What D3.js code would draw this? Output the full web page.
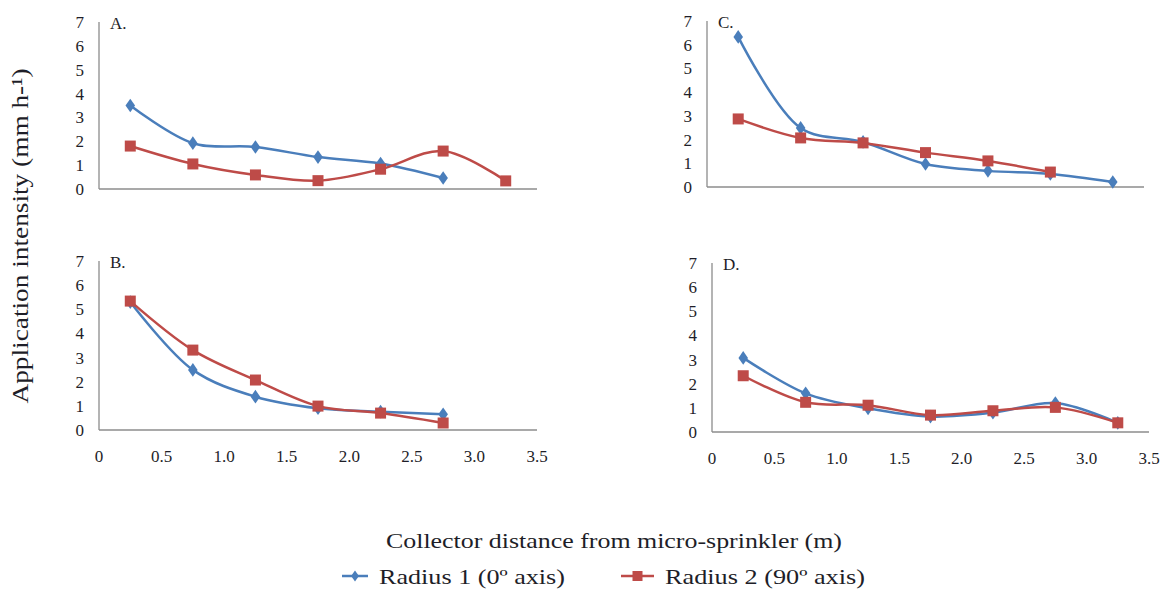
<!DOCTYPE html>
<html>
<head>
<meta charset="utf-8">
<script src="https://cdn.jsdelivr.net/npm/d3@7"></script>
<style>
  html, body { margin: 0; padding: 0; background: #fff; }
  svg { display: block; }
</style>
</head>
<body>
<svg id="chart" width="1162" height="589"></svg>
<script>
// ---- data ----
const distances = [0.25, 0.75, 1.25, 1.75, 2.25, 2.75, 3.25];
const xTickValues = [0, 0.5, 1.0, 1.5, 2.0, 2.5, 3.0, 3.5];
const yTickValues = [0, 1, 2, 3, 4, 5, 6, 7];
const seriesNames = ["Radius 1 (0º axis)", "Radius 2 (90º axis)"];
const panelLabels = ["A.", "B.", "C.", "D."];

const aRadius1 = [3.50, 1.92, 1.76, 1.34, 1.07, 0.46];
const aRadius2 = [1.80, 1.05, 0.59, 0.35, 0.83, 1.59, 0.34];
const bRadius1 = [5.30, 2.49, 1.38, 0.90, 0.76, 0.65];
const bRadius2 = [5.34, 3.31, 2.07, 0.99, 0.70, 0.29];
const cRadius1 = [6.33, 2.49, 1.90, 0.97, 0.68, 0.55, 0.21];
const cRadius2 = [2.87, 2.07, 1.86, 1.45, 1.10, 0.63];
const dRadius1 = [3.07, 1.60, 0.98, 0.64, 0.80, 1.20, 0.38];
const dRadius2 = [2.33, 1.23, 1.11, 0.70, 0.88, 1.02, 0.38];

// ---- layout ----
const panels = [
  { label: panelLabels[0], r1: aRadius1, r2: aRadius2, left: 99,  right: 537,  top: 22,  bottom: 189, xLabels: false },
  { label: panelLabels[1], r1: bRadius1, r2: bRadius2, left: 99,  right: 537,  top: 261, bottom: 430, xLabels: true },
  { label: panelLabels[2], r1: cRadius1, r2: cRadius2, left: 707, right: 1144, top: 21,  bottom: 187, xLabels: false },
  { label: panelLabels[3], r1: dRadius1, r2: dRadius2, left: 712, right: 1149, top: 263, bottom: 432, xLabels: true }
];

const FONT = "Liberation Serif";
const blue = "#4a7ebb";
const red = "#be4b48";
const textCol = "#1e1e28";
const axisCol = "#8c8c8c";

const svg = d3.select("#chart");

// stretch a text horizontally to a target width (reference text is wide)
function stretch(sel, target) {
  sel.attr("textLength", target).attr("lengthAdjust", "spacingAndGlyphs");
}

panels.forEach(p => {
  const g = svg.append("g");
  const x = d3.scaleLinear().domain([0, 3.5]).range([p.left, p.right]);
  const y = d3.scaleLinear().domain([0, 7]).range([p.bottom, p.top]);

  g.append("line").attr("x1", p.left).attr("x2", p.left).attr("y1", p.top).attr("y2", p.bottom)
    .attr("stroke", axisCol).attr("stroke-width", 1.3);
  g.append("line").attr("x1", p.left).attr("x2", p.right).attr("y1", p.bottom).attr("y2", p.bottom)
    .attr("stroke", axisCol).attr("stroke-width", 1.3);

  g.selectAll(".yt").data(yTickValues).join("text")
    .attr("x", p.left - 15)
    .attr("y", d => y(d))
    .attr("dy", "0.35em")
    .attr("text-anchor", "end")
    .attr("font-family", FONT)
    .attr("font-size", 17)
    .attr("fill", textCol)
    .text(d => d);

  if (p.xLabels) {
    g.selectAll(".xt").data(xTickValues).join("text")
      .attr("x", d => x(d))
      .attr("y", p.bottom + 26)
      .attr("dy", "0.35em")
      .attr("text-anchor", "middle")
      .attr("font-family", FONT)
      .attr("font-size", 17)
      .attr("fill", textCol)
      .text(d => d === 0 ? "0" : d3.format(".1f")(d));
  }

  g.append("text")
    .attr("x", p.left + 11)
    .attr("y", p.top + 1)
    .attr("dy", "0.35em")
    .attr("font-family", FONT)
    .attr("font-size", 17)
    .attr("fill", textCol)
    .text(p.label);

  const line = d3.line()
    .x((d, i) => x(distances[i]))
    .y(d => y(d))
    .curve(d3.curveCatmullRom.alpha(0.5));

  g.append("path").datum(p.r1).attr("d", line)
    .attr("fill", "none").attr("stroke", blue).attr("stroke-width", 2.5);
  g.append("path").datum(p.r2).attr("d", line)
    .attr("fill", "none").attr("stroke", red).attr("stroke-width", 2.5);

  g.selectAll(".m1").data(p.r1).join("path")
    .attr("d", d3.symbol().type(d3.symbolDiamond).size(60)())
    .attr("transform", (d, i) => `translate(${x(distances[i])},${y(d)}) scale(1.15,0.95)`)
    .attr("fill", blue);
  g.selectAll(".m2").data(p.r2).join("rect")
    .attr("x", (d, i) => x(distances[i]) - 5.5)
    .attr("y", d => y(d) - 5.5)
    .attr("width", 11).attr("height", 11)
    .attr("fill", red);
});

const yTitle = svg.append("text")
  .attr("transform", "translate(20,236) rotate(-90)")
  .attr("text-anchor", "middle")
  .attr("dy", "0.35em")
  .attr("font-family", FONT)
  .attr("font-size", 23)
  .attr("fill", textCol)
  .text("Application intensity (mm h-¹)");
stretch(yTitle, 335);

const xTitle = svg.append("text")
  .attr("x", 614).attr("y", 540)
  .attr("dy", "0.35em")
  .attr("text-anchor", "middle")
  .attr("font-family", FONT)
  .attr("font-size", 22)
  .attr("fill", textCol)
  .text("Collector distance from micro-sprinkler (m)");
stretch(xTitle, 456);

const leg = svg.append("g");
const legItems = [
  { name: seriesNames[0], color: blue, x1: 342, x2: 368, tx: 379, w: 186, shape: "diamond" },
  { name: seriesNames[1], color: red, x1: 621, x2: 654, tx: 665, w: 200, shape: "square" }
];
const ly = 576;
legItems.forEach(it => {
  leg.append("line").attr("x1", it.x1).attr("x2", it.x2).attr("y1", ly).attr("y2", ly)
    .attr("stroke", it.color).attr("stroke-width", 2.5);
  const cx = (it.x1 + it.x2) / 2;
  if (it.shape === "diamond") {
    leg.append("path").attr("d", d3.symbol().type(d3.symbolDiamond).size(40)())
      .attr("transform", `translate(${cx},${ly}) scale(1.15,0.95)`).attr("fill", it.color);
  } else {
    leg.append("rect").attr("x", cx - 5).attr("y", ly - 5).attr("width", 10).attr("height", 10)
      .attr("fill", it.color);
  }
  const t = leg.append("text").attr("x", it.tx).attr("y", ly).attr("dy", "0.35em")
    .attr("font-family", FONT)
    .attr("font-size", 22).attr("fill", textCol).text(it.name);
  stretch(t, it.w);
});
</script>
</body>
</html>
